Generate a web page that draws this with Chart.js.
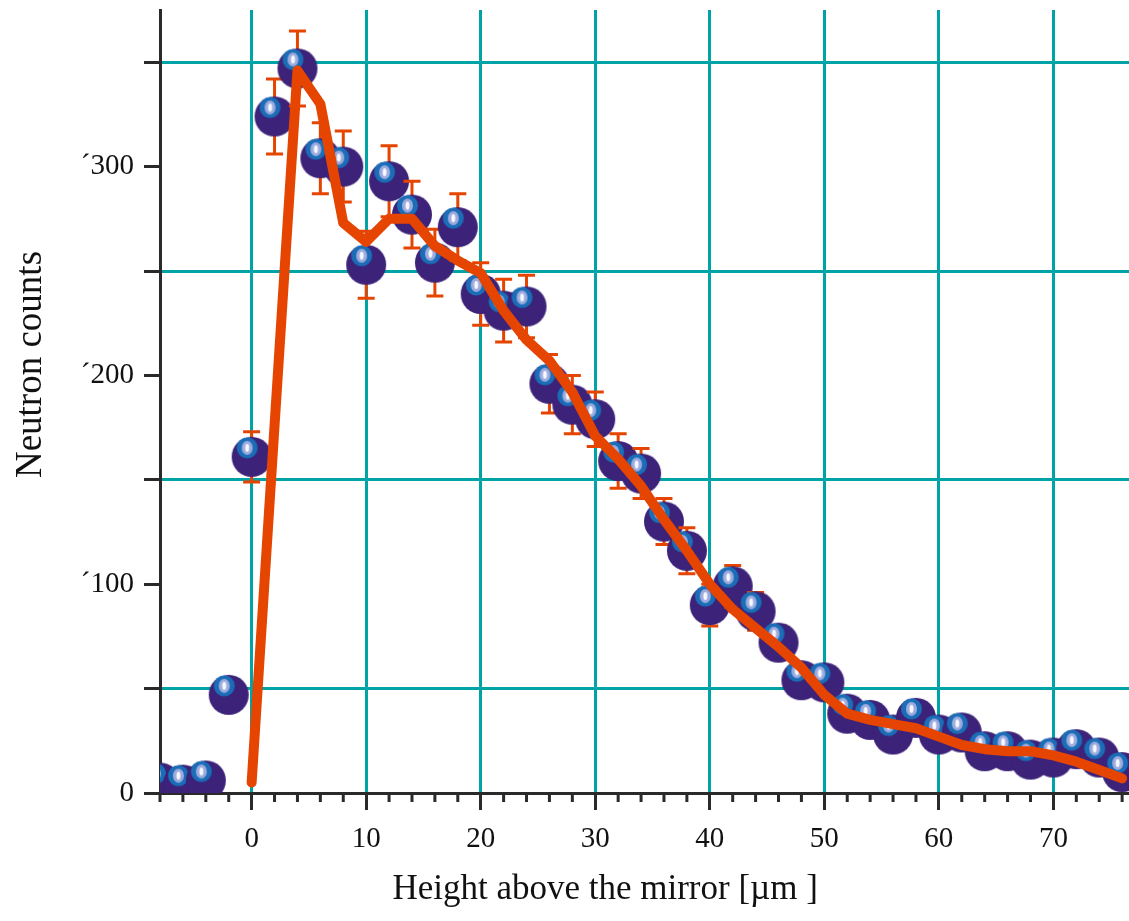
<!DOCTYPE html>
<html>
<head>
<meta charset="utf-8">
<title>Neutron counts</title>
<script src="https://cdn.jsdelivr.net/npm/chart.js@4.4.1/dist/chart.umd.min.js"></script>
<style>
    html, body { margin: 0; padding: 0; background: #ffffff; }
    #chart { display: block; }
</style>
</head>
<body>
<canvas id="chart" width="1129" height="921"></canvas>
<script>
// Measured points (height in micrometres, counts, error)
const heights = [-8, -6, -4, -2, 0, 2, 4, 6, 8, 10, 12, 14, 16, 18, 20, 22, 24, 26, 28, 30, 32, 34, 36, 38, 40,
                 42, 44, 46, 48, 50, 52, 54, 56, 58, 60, 62, 64, 66, 68, 70, 72, 74, 76];
const counts = [5, 4, 6, 47, 161, 324, 347, 304, 300, 253, 293, 277, 254, 271, 239, 231, 233, 196, 186, 179, 159, 153, 130, 116, 90,
                99, 87, 72, 54, 53, 38, 35, 28, 36, 28, 29, 20, 20, 16, 17, 21, 17, 10];
const countErrors = [5, 5, 5, 6, 12, 18, 18, 17, 17, 16, 17, 16, 16, 16, 15, 15, 15, 14, 14, 13, 13, 12, 11, 11, 10,
                     10, 9, 8, 7, 7, 6, 6, 6, 6, 6, 6, 6, 6, 6, 6, 6, 6, 6];

// Fitted curve
const fitHeights = [0, 2, 4, 6, 8, 10, 12, 14, 16, 18, 20, 22, 24, 26, 28, 30, 32, 34, 36, 38,
                    40, 42, 44, 46, 48, 50, 52, 54, 56, 58, 60, 62, 64, 66, 68, 70, 72, 74, 76];
const fitCounts = [5, 176, 346, 330, 273, 264, 275, 275, 262, 255, 249, 231, 217, 207, 192, 171, 160, 147, 131, 116,
                   100, 88, 79, 70, 60, 47, 38, 35, 33, 31, 27, 23, 21, 20, 20, 18, 15, 11, 7];

// Axis ticks
const xTickValues = [0, 10, 20, 30, 40, 50, 60, 70];
const xMinorTicks = [-8, -6, -4, -2, 2, 4, 6, 8, 12, 14, 16, 18, 22, 24, 26, 28, 32, 34, 36, 38,
                     42, 44, 46, 48, 52, 54, 56, 58, 62, 64, 66, 68, 72, 74, 76];
const yTickValues = [0, 50, 100, 150, 200, 250, 300, 350];
const yTickLabels = ['0', '', '\u00b4100', '', '\u00b4200', '', '\u00b4300', ''];

const TEAL = '#00a3a6';
const ORANGE = '#e54500';
const AXIS = '#2a2a2a';
const SERIF = "'Liberation Serif', 'Times New Roman', serif";

// Shiny purple ball used as point style
function makeBall(r) {
    const c = document.createElement('canvas');
    const s = Math.ceil(r * 2) + 2;
    c.width = s;
    c.height = s;
    const g = c.getContext('2d');
    const m = s / 2;
    const hx = m - 4.5;
    const hy = m - 9;
    g.fillStyle = '#3c2278';
    g.beginPath(); g.arc(m, m, r, 0, Math.PI * 2); g.fill();
    g.fillStyle = '#1a6db6';
    g.beginPath(); g.arc(hx, hy, 10.5, 0, Math.PI * 2); g.fill();
    g.fillStyle = '#9dabdf';
    g.beginPath(); g.ellipse(hx, hy, 5.5, 7, 0, 0, Math.PI * 2); g.fill();
    g.fillStyle = '#f7f8fd';
    g.beginPath(); g.ellipse(hx, hy, 2, 4, 0, 0, Math.PI * 2); g.fill();
    return c;
}

// Draws error bar then ball for each point, so later balls overlap earlier bars
const ballsWithErrors = {
    id: 'ballsWithErrors',
    beforeDatasetDraw: function(chart, args) {
        if (args.index !== 1) {
            return;
        }
        const ctx = chart.ctx;
        const area = chart.chartArea;
        const y = chart.scales.y;
        const meta = chart.getDatasetMeta(1);
        ctx.save();
        ctx.beginPath();
        ctx.rect(area.left, area.top, area.right - area.left, area.bottom - area.top);
        ctx.clip();
        meta.data.forEach(function(pt, i) {
            const yTop = y.getPixelForValue(counts[i] + countErrors[i]);
            const yBot = y.getPixelForValue(counts[i] - countErrors[i]);
            ctx.strokeStyle = ORANGE;
            ctx.lineWidth = 3;
            ctx.beginPath();
            ctx.moveTo(pt.x, yTop); ctx.lineTo(pt.x, yBot);
            ctx.moveTo(pt.x - 8.5, yTop); ctx.lineTo(pt.x + 8.5, yTop);
            ctx.moveTo(pt.x - 8.5, yBot); ctx.lineTo(pt.x + 8.5, yBot);
            ctx.stroke();
            pt.draw(ctx, area);
        });
        ctx.restore();
        return false;
    }
};

// Short minor ticks on the x axis
const minorTicks = {
    id: 'minorTicks',
    afterDraw: function(chart) {
        const ctx = chart.ctx;
        const x = chart.scales.x;
        const base = chart.chartArea.bottom;
        ctx.save();
        ctx.strokeStyle = AXIS;
        ctx.lineWidth = 3;
        ctx.beginPath();
        xMinorTicks.forEach(function(v) {
            const px = x.getPixelForValue(v);
            ctx.moveTo(px, base);
            ctx.lineTo(px, base + 9);
        });
        ctx.stroke();
        ctx.restore();
    }
};

new Chart(document.getElementById('chart'), {
    type: 'scatter',
    data: {
        datasets: [
            {
                label: 'Fit',
                data: fitHeights.map(function(h, i) { return { x: h, y: fitCounts[i] }; }),
                showLine: true,
                borderColor: ORANGE,
                borderWidth: 10,
                borderCapStyle: 'round',
                borderJoinStyle: 'round',
                pointRadius: 0,
                fill: false
            },
            {
                label: 'Data',
                data: heights.map(function(h, i) { return { x: h, y: counts[i] }; }),
                pointStyle: makeBall(20),
                pointRadius: 20
            }
        ]
    },
    options: {
        responsive: false,
        animation: false,
        layout: {
            autoPadding: false,
            padding: { top: 10, right: 0, bottom: 0, left: 0 }
        },
        plugins: {
            legend: { display: false },
            tooltip: { enabled: false }
        },
        scales: {
            x: {
                type: 'linear',
                min: -8,
                max: 76.6,
                afterBuildTicks: function(scale) {
                    scale.ticks = xTickValues.map(function(v) { return { value: v }; });
                },
                afterFit: function(scale) {
                    scale.height = 128;
                    scale.paddingLeft = 0;
                    scale.paddingRight = 0;
                },
                ticks: {
                    color: '#111111',
                    font: { family: SERIF, size: 29 },
                    padding: 12,
                    maxRotation: 0,
                    autoSkip: false
                },
                grid: {
                    color: TEAL,
                    lineWidth: 3,
                    tickColor: AXIS,
                    tickWidth: 3,
                    tickLength: 17
                },
                border: { color: AXIS, width: 3 },
                title: {
                    display: true,
                    // trailing spaces pull the centred title a little left, as in the original
                    text: 'Height above the mirror [\u00b5m ]         ',
                    color: '#111111',
                    font: { family: SERIF, size: 35 },
                    padding: { top: 0, bottom: 10 }
                }
            },
            y: {
                min: 0,
                max: 375,
                afterBuildTicks: function(scale) {
                    scale.ticks = yTickValues.map(function(v) { return { value: v }; });
                },
                afterFit: function(scale) {
                    scale.width = 160;
                    scale.paddingTop = 0;
                    scale.paddingBottom = 0;
                },
                ticks: {
                    color: '#111111',
                    font: { family: SERIF, size: 29 },
                    padding: 10,
                    autoSkip: false,
                    callback: function(value, index) {
                        return yTickLabels[index];
                    }
                },
                grid: {
                    color: function(ctx) {
                        return (ctx.tick && ctx.tick.value % 100 === 50) ? TEAL : 'rgba(0,0,0,0)';
                    },
                    lineWidth: 3,
                    tickColor: AXIS,
                    tickWidth: 3,
                    tickLength: 16
                },
                border: { color: AXIS, width: 3 },
                title: {
                    display: true,
                    // leading spaces lift the rotated title, as in the original
                    text: '        Neutron counts',
                    color: '#111111',
                    font: { family: SERIF, size: 37 },
                    padding: { top: 9, bottom: 0 }
                }
            }
        }
    },
    plugins: [ballsWithErrors, minorTicks]
});
</script>
</body>
</html>
